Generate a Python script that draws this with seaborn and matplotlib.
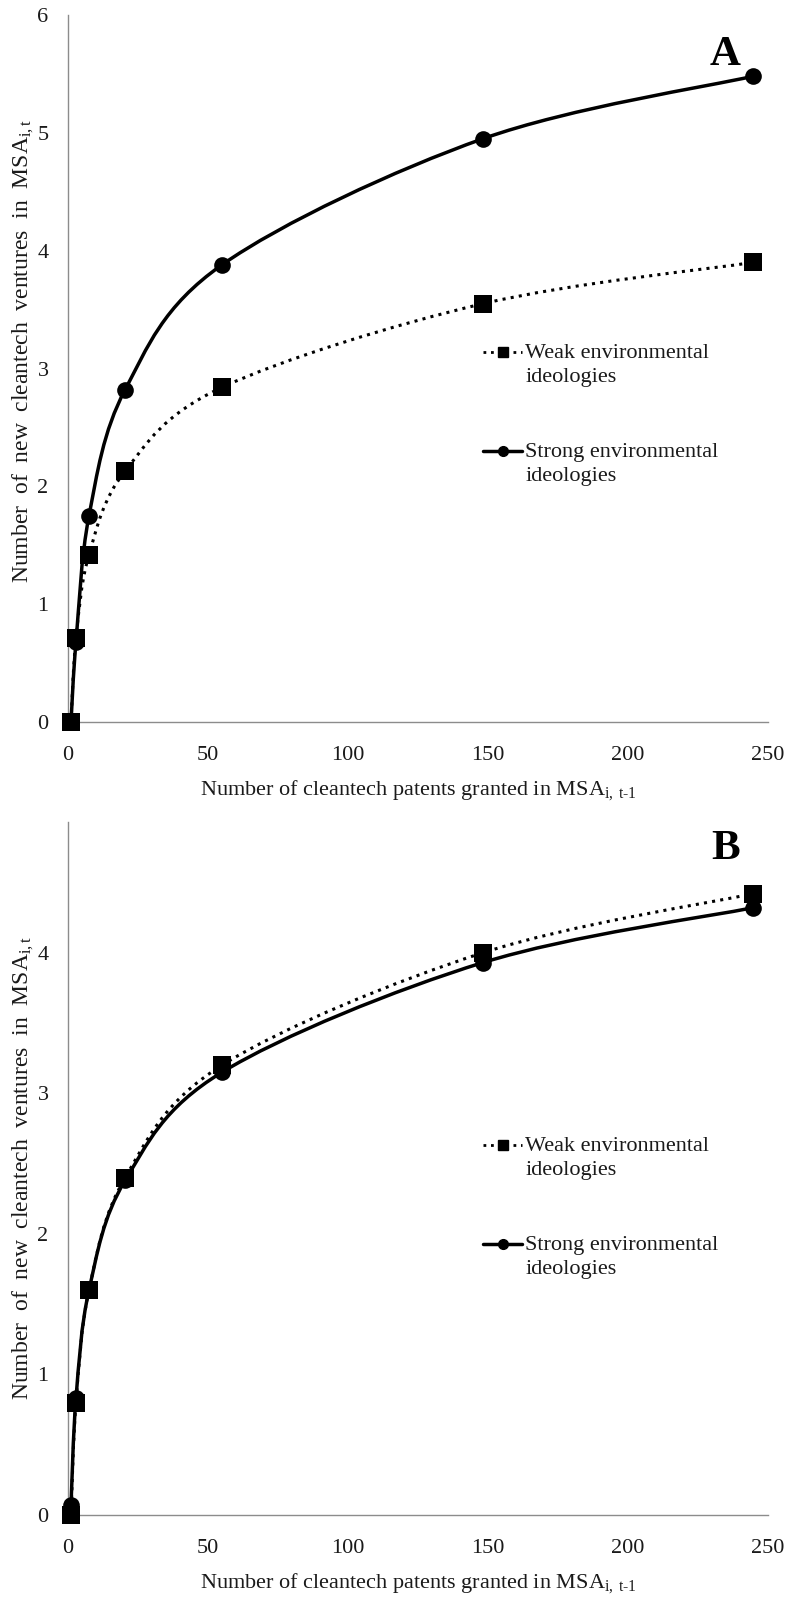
import numpy as np
import matplotlib
matplotlib.use("Agg")
import matplotlib.pyplot as plt
import seaborn as sns
from matplotlib.path import Path
from matplotlib.patches import PathPatch
from matplotlib.lines import Line2D
from matplotlib.legend_handler import HandlerLine2D

# ---- data ----
patents = [1.07, 2.86, 7.5, 20.4, 55.0, 148.2, 244.6]
a_weak = [0.0, 0.71, 1.42, 2.13, 2.84, 3.55, 3.90]
a_strong = [0.0, 0.68, 1.75, 2.82, 3.88, 4.95, 5.48]
b_weak = [0.0, 0.80, 1.60, 2.40, 3.20, 4.00, 4.42]
b_strong = [0.07, 0.83, 1.60, 2.38, 3.15, 3.93, 4.32]
x_ticks = [0, 50, 100, 150, 200, 250]
a_yticks = [0, 1, 2, 3, 4, 5, 6]
b_yticks = [0, 1, 2, 3, 4]
series_names = ["Weak environmental\nideologies", "Strong environmental\nideologies"]
panel_letters = ["A", "B"]

sns.set_theme(style="white")
plt.rcParams['font.family'] = ['Liberation Serif', 'DejaVu Serif']
plt.rcParams['mathtext.fontset'] = 'custom'
plt.rcParams['mathtext.rm'] = 'Liberation Serif'
plt.rcParams['mathtext.it'] = 'Liberation Serif:italic'

TXT = '#1a1a1a'
FS = 16
XLFS = 16
YLFS = 17
SP = "  "   # wide (justified-looking) word spacing of the y title


class UpHandler(HandlerLine2D):
    """Legend handle aligned with the first line of a two-line label."""
    def __init__(self, shift, **kw):
        super().__init__(**kw)
        self.shift = shift

    def create_artists(self, legend, orig_handle, xdescent, ydescent, width,
                       height, fontsize, trans):
        return super().create_artists(legend, orig_handle, xdescent,
                                      ydescent - 2 * self.shift, width, height,
                                      fontsize, trans)


def smooth_patch(xs, ys, ls, lw):
    pts = np.column_stack([xs, ys]).astype(float)
    n = len(pts)
    verts = [pts[0]]
    codes = [Path.MOVETO]
    for i in range(n - 1):
        p0 = pts[i - 1] if i > 0 else pts[i]
        p1 = pts[i]
        p2 = pts[i + 1]
        p3 = pts[i + 2] if i + 2 < n else pts[i + 1]
        c1 = p1 + (p2 - p0) / 6.0
        c2 = p2 - (p3 - p1) / 6.0
        verts += [c1, c2, p2]
        codes += [Path.CURVE4] * 3
    return PathPatch(Path(verts, codes), facecolor='none', edgecolor='black',
                     lw=lw, linestyle=ls, capstyle='butt', zorder=2)


fig = plt.figure(figsize=(7.89, 15.98), dpi=100)
W, H = 789, 1598
axA = fig.add_axes([68 / W, 1 - 722 / H, 700 / W, 707 / H])
axB = fig.add_axes([68 / W, 1 - 1515 / H, 700 / W, 693 / H])

DOT = (0, (1, 1.7))
ylabel_text = SP.join(["Number", "of", "new", "cleantech", "ventures", "in", "MSA"]) \
    + r"$_{\mathregular{i,t}}$"

for ax, weak, strong, yt, ymax, letter in [
        (axA, a_weak, a_strong, a_yticks, 6.0, panel_letters[0]),
        (axB, b_weak, b_strong, b_yticks, 4.93, panel_letters[1])]:
    ax.add_patch(smooth_patch(patents, strong, '-', 2.5))
    ax.add_patch(smooth_patch(patents, weak, DOT, 2.2))
    sns.scatterplot(x=patents, y=strong, marker='o', s=12 ** 2, color='black',
                    edgecolor='black', linewidth=0, ax=ax, zorder=3, clip_on=False)
    sns.scatterplot(x=patents, y=weak, marker='s', s=12.5 ** 2, color='black',
                    edgecolor='black', linewidth=0, ax=ax, zorder=4, clip_on=False)
    ax.set_xlim(0, 250)
    ax.set_ylim(0, ymax)
    ax.set_xticks(x_ticks)
    ax.set_yticks(yt)
    ax.tick_params(axis='both', length=0, labelsize=FS, colors=TXT)
    ax.tick_params(axis='x', pad=17)
    ax.tick_params(axis='y', pad=14)
    for s in ['top', 'right']:
        ax.spines[s].set_visible(False)
    for s in ['left', 'bottom']:
        ax.spines[s].set_color('#8c8c8c')
        ax.spines[s].set_linewidth(1.0)
    ax.set_facecolor('white')
    ax.set_xlabel(r'Number of cleantech patents granted in MSA$_{\mathregular{i,\ t\text{-}1}}$',
                  fontsize=XLFS, color=TXT, labelpad=10)
    ax.set_ylabel(ylabel_text, fontsize=YLFS, color=TXT)
    ax.yaxis.set_label_coords(-0.045, 0.525 if letter == 'A' else 0.5)
    ax.text(0.939, 1 - 40 / 707 if letter == 'A' else 1 - 27 / 693, letter,
            transform=ax.transAxes, ha='center', va='center',
            fontsize=31, fontweight='bold', color='black')

    h_weak = Line2D([], [], color='black', lw=2.0, linestyle=DOT, marker='s', markersize=7)
    h_strong = Line2D([], [], color='black', lw=2.5, linestyle='-', marker='o', markersize=7)
    leg = ax.legend([h_weak, h_strong], series_names, loc='upper left',
                    bbox_to_anchor=(0.593, 0.535 if letter == 'A' else 0.546),
                    frameon=False, fontsize=FS, handlelength=1.75, handletextpad=0.15,
                    labelspacing=2.55, borderaxespad=0, borderpad=0,
                    handler_map={h_weak: UpHandler(9.0), h_strong: UpHandler(9.0)})
    for t in leg.get_texts():
        t.set_linespacing(1.35)
        t.set_color(TXT)

fig.savefig('out.png', dpi=100, facecolor='white')
